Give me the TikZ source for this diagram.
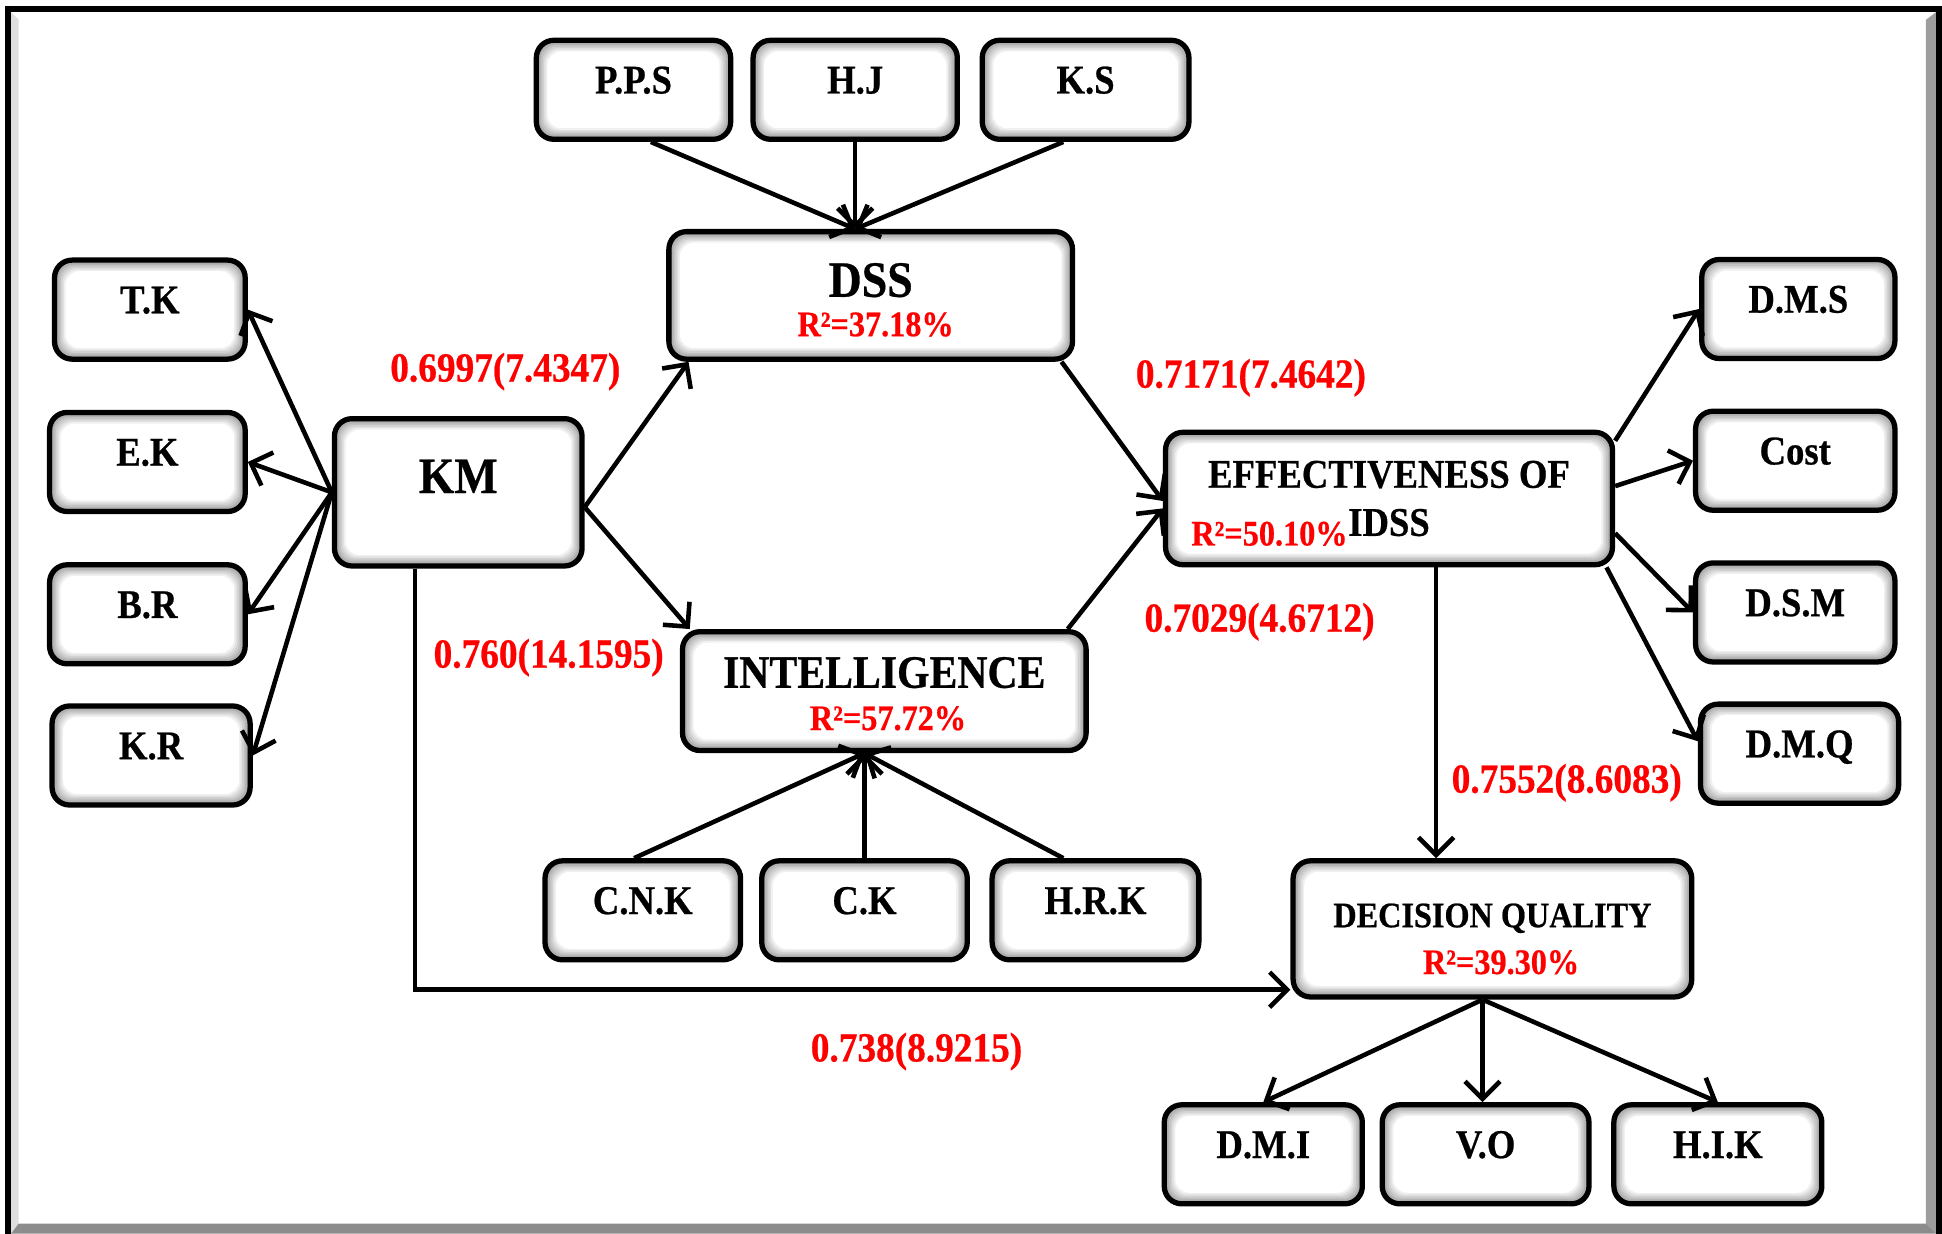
\documentclass[tikz,border=0pt]{standalone}
\usepackage{fontspec}
\setmainfont{Liberation Serif}[FakeStretch=0.9,BoldFeatures={FakeBold=0.6}]
\usepackage{tikz}
\usetikzlibrary{arrows.meta,positioning,calc}
\definecolor{CoefRed}{HTML}{FF0000}
\definecolor{FrameGrey}{HTML}{8C8C8C}
\definecolor{FrameLight}{HTML}{DEDEDE}
\newcommand{\px}{0.3524pt}
\tikzset{
  box/.style={draw,line width=1.5pt,rounded corners=5pt,fill=black!42,
    path picture={
      \foreach \k in {1,...,7}{
        \pgfmathtruncatemacro\boxlev{42-6*\k}
        \fill[black!\boxlev,rounded corners=4pt]
          ([shift={(\k*0.45pt,\k*0.45pt)}]path picture bounding box.south west) rectangle
          ([shift={(-\k*0.45pt,-\k*0.45pt)}]path picture bounding box.north east);}}},
  item/.style={box,minimum height=80*\px,font=\fontsize{11.6}{13}\selectfont\bfseries,
    text height=7.7pt,text depth=5.6pt},
  coef/.style={font=\fontsize{11.8}{14}\selectfont\bfseries,text=CoefRed},
  rsq/.style={font=\fontsize{10.2}{12}\selectfont\bfseries,text=CoefRed},
  arr/.style={-{Straight Barb[length=5pt,width=10pt]},line width=1.3pt}
}
\begin{document}
\begin{tikzpicture}[x=0.012385cm,y=-0.012385cm]
  \useasboundingbox (0,0) rectangle (1568,996);
  % frame
  \fill[FrameLight] (9,10) -- (15,16) -- (15,988) -- (9,996) -- cycle;
  \fill[FrameGrey!85] (1555,16) -- (1563,10) -- (1563,996) -- (1555,988) -- cycle;
  \fill[FrameGrey] (9,996) -- (15,988) -- (1555,988) -- (1563,996) -- cycle;
  \fill[black] (4,5) rectangle (1568,10);
  \fill[black] (4,5) rectangle (9,996);
  \fill[black] (1563,5) rectangle (1568,996);

  % top indicators
  \node[item,minimum width=157*\px] (pps) at (511.5,72.5) {P.P.S};
  \node[item,minimum width=165*\px] (hj)  at (690.5,72.5) {H.J};
  \node[item,minimum width=167*\px] (ks)  at (876.5,72.5) {K.S};
  \node[box,minimum width=326*\px,minimum height=103*\px,
    font=\fontsize{14.5}{16}\selectfont\bfseries,text height=9.6pt,text depth=8.8pt]
    (dss) at (703,238.5) {DSS};
  \node[rsq] (dssr) at (707,262) {R²=37.18\%};

  % KM side
  \node[item,minimum width=154*\px] (tk) at (121,250) {T.K};
  \node[item,minimum width=158*\px] (ek) at (119,373) {E.K};
  \node[item,minimum width=158*\px] (br) at (119,496) {B.R};
  \node[item,minimum width=160*\px] (kr) at (122,610) {K.R};
  \node[box,minimum width=200*\px,minimum height=119*\px,
    font=\fontsize{14.5}{16}\selectfont\bfseries,text height=9.6pt,text depth=9.2pt]
    (km) at (370,397.5) {KM};

  % intelligence
  \node[box,minimum width=326*\px,minimum height=96*\px,
    font=\fontsize{13.2}{15}\selectfont\bfseries,text height=8.7pt,text depth=10.6pt]
    (intel) at (714,558) {INTELLIGENCE};
  \node[rsq] (intelr) at (717,580) {R²=57.72\%};
  \node[item,minimum width=158*\px] (cnk) at (519,735) {C.N.K};
  \node[item,minimum width=166*\px] (ck)  at (698,735) {C.K};
  \node[item,minimum width=167*\px] (hrk) at (884.5,735) {H.R.K};

  % effectiveness
  \node[box,minimum width=361*\px,minimum height=107*\px,align=center,
    font=\fontsize{11.6}{13.7}\selectfont\bfseries]
    (eff) at (1121.5,402.5) {EFFECTIVENESS OF\\IDSS};
  \node[rsq] (effr) at (1025,431) {R²=50.10\%};
  \node[item,minimum width=156*\px] (dms)  at (1452,249.5) {D.M.S};
  \node[item,minimum width=161*\px] (cost) at (1449.5,372) {Cost};
  \node[item,minimum width=161*\px] (dsm)  at (1449.5,494.5) {D.S.M};
  \node[item,minimum width=160*\px] (dmq)  at (1453,608.5) {D.M.Q};

  % decision quality
  \node[box,minimum width=322*\px,minimum height=110*\px,
    font=\fontsize{10.2}{12}\selectfont\bfseries,text height=6.8pt,text depth=7.75pt]
    (dq) at (1205,750) {DECISION QUALITY};
  \node[rsq] (dqr) at (1212,777) {R²=39.30\%};
  \node[item,minimum width=160*\px] (dmi) at (1020,932) {D.M.I};
  \node[item,minimum width=167*\px] (vo)  at (1199.5,932) {V.O};
  \node[item,minimum width=168*\px] (hik) at (1387,932) {H.I.K};

  % path coefficients
  \node[coef] (kmdss)  at (408,300)  {0.6997(7.4347)};
  \node[coef] (dsseff) at (1010,305) {0.7171(7.4642)};
  \node[coef] (kmint)  at (443,531)  {0.760(14.1595)};
  \node[coef] (inteff) at (1017,502) {0.7029(4.6712)};
  \node[coef] (effdq)  at (1265,632) {0.7552(8.6083)};
  \node[coef] (kmdq)   at (740,849)  {0.738(8.9215)};

  % connectors
  \coordinate (dssin) at (hj.south |- dss.north);
  \draw[arr] ($(pps.south)+(14,0)$) -- (dssin);
  \draw[arr] (hj.south) -- (dssin);
  \draw[arr] ($(ks.south)+(-18,0)$) -- (dssin);

  \draw[arr] (km.west) -- (tk.east);
  \draw[arr] (km.west) -- (ek.east);
  \draw[arr] (km.west) -- (br.east);
  \draw[arr] (km.west) -- (kr.east);
  \draw[arr] ($(km.east)+(0,12)$) -- ($(dss.south west)+(18,0)$);
  \draw[arr] ($(km.east)+(0,12)$) -- ($(intel.north west)+(8,0)$);

  \draw[arr] ($(dss.south east)+(-11,0)$) -- ($(eff.west)+(0,2)$);
  \draw[arr] ($(intel.north east)+(-17,0)$) -- ($(eff.west)+(0,8)$);

  \coordinate (intin) at (ck.north |- intel.south);
  \draw[arr] ($(cnk.north)+(-7,0)$) -- (intin);
  \draw[arr] (ck.north) -- (intin);
  \draw[arr] ($(hrk.north)+(-26,0)$) -- (intin);

  \draw[arr] ($(eff.north east)+(0,9)$) -- (dms.west);
  \draw[arr] ($(eff.east)+(0,-10)$) -- (cost.west);
  \draw[arr] ($(eff.east)+(0,28)$) -- (dsm.west);
  \draw[arr] ($(eff.south east)+(-7,0)$) -- ($(dmq.west)+(0,-10)$);

  \coordinate (effout) at ($(eff.south)+(38,0)$);
  \draw[arr] (effout) -- (effout |- dq.north);
  \coordinate (kmout) at ($(km.south)+(-35,0)$);
  \draw[arr] (kmout) |- ($(dq.south west)+(0,-8)$);

  \coordinate (dqout) at ($(dq.south)+(-8,0)$);
  \draw[arr] (dqout) -- (dmi.north);
  \draw[arr] (dqout) -- (dqout |- vo.north);
  \draw[arr] (dqout) -- (hik.north);
\end{tikzpicture}
\end{document}
